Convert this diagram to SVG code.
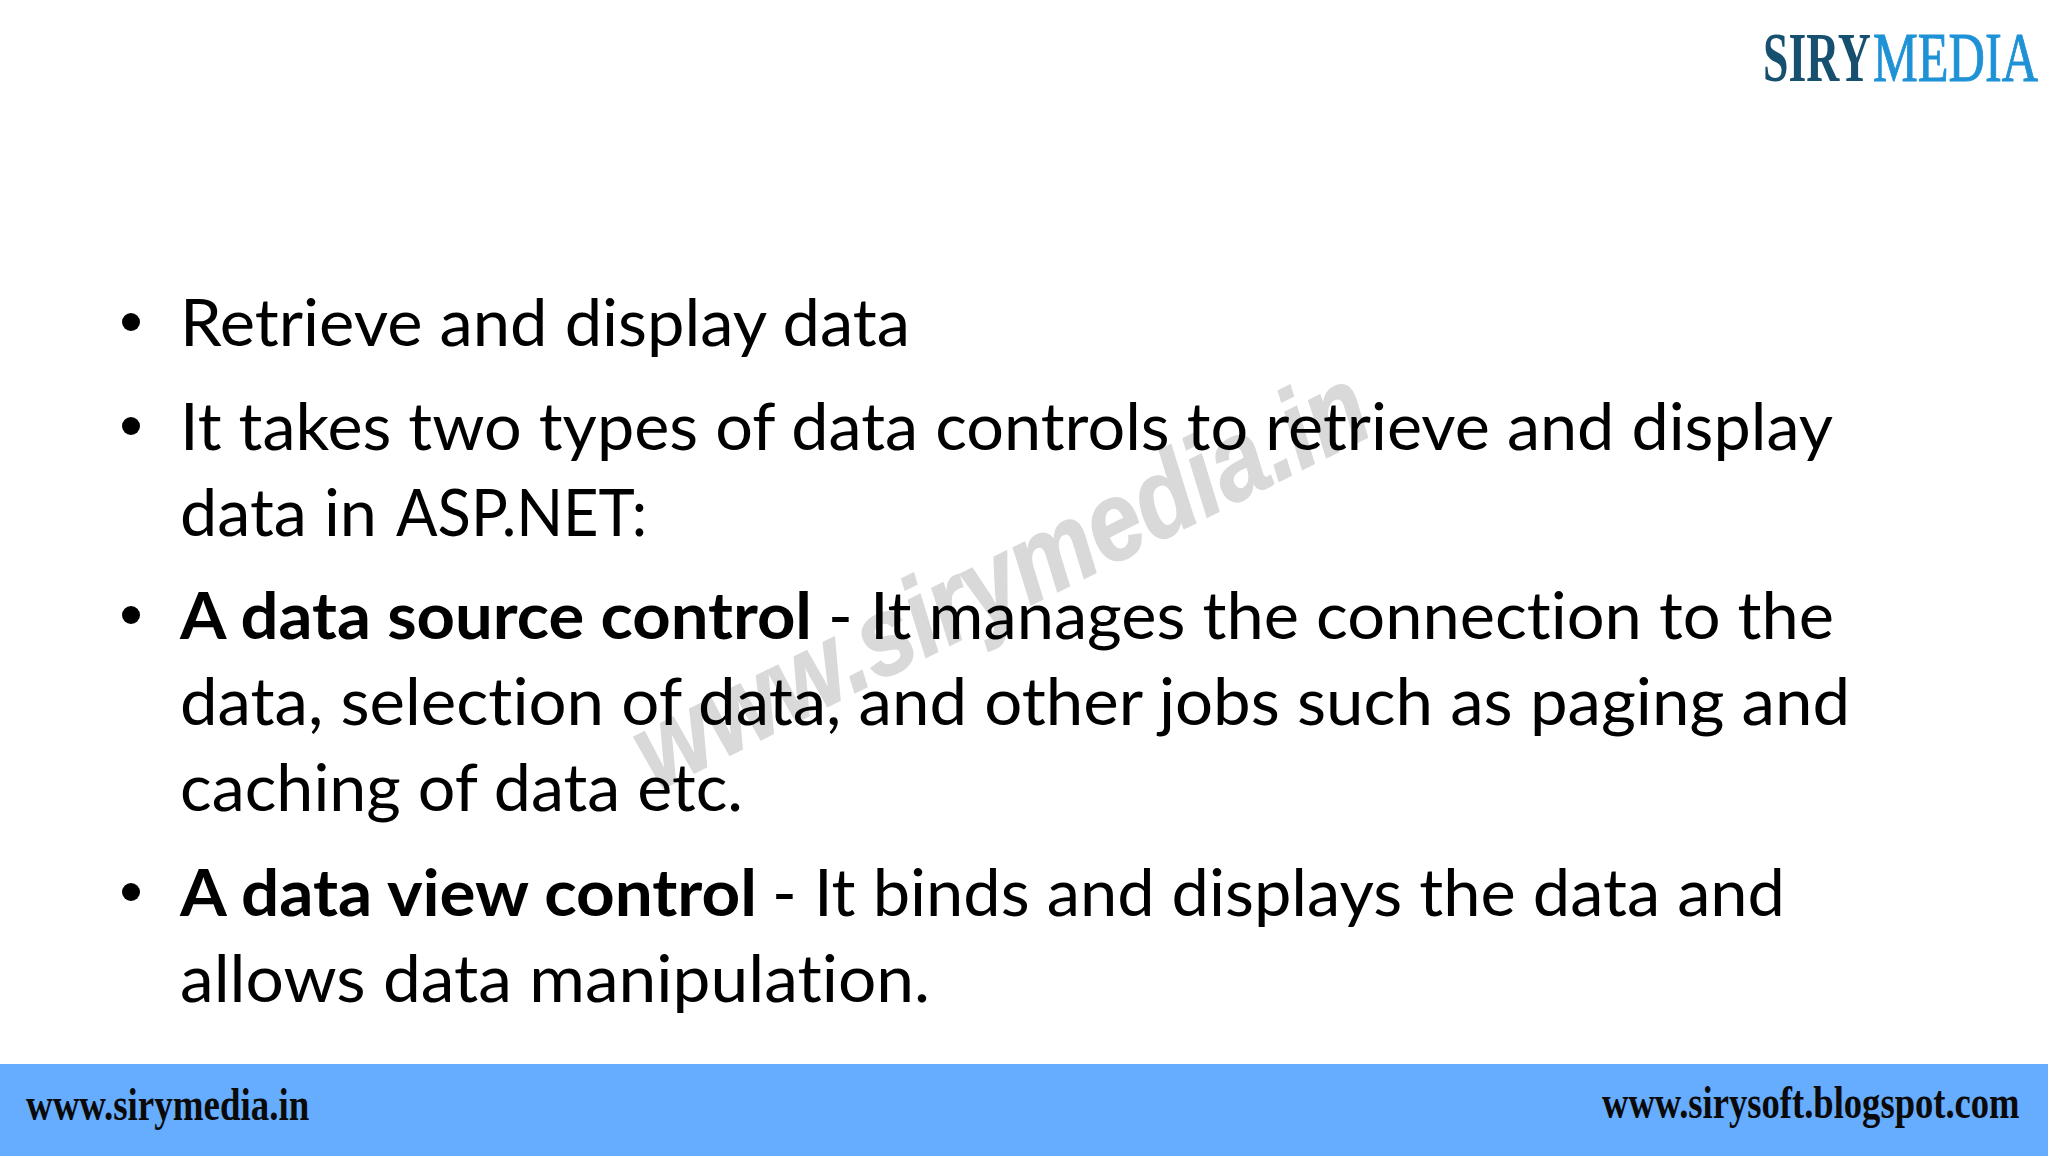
<svg xmlns="http://www.w3.org/2000/svg" width="2048" height="1156" viewBox="0 0 2048 1156">
<style>
.b{font-family:"Lato","Carlito","Liberation Sans",sans-serif;font-size:65px;fill:#000;font-variant-ligatures:none}
.s{font-weight:700}
.f{font-family:"Liberation Serif",serif;font-size:47px;font-weight:700;fill:#0a0a0a}
.l{font-family:"Liberation Serif",serif;font-size:70px}
.d{fill:#000}
</style>
<rect width="2048" height="1156" fill="#fff"/>
<g id="watermark"><text transform="translate(656 792) rotate(-26.5)" textLength="806" lengthAdjust="spacingAndGlyphs" font-family="Liberation Sans,sans-serif" font-size="112" font-weight="700" font-style="italic" fill="#d9d9d9" stroke="#d9d9d9" stroke-width="1.5">www.sirymedia.in</text></g>
<g id="logo">
<text class="l" transform="translate(1763 81) scale(.7 1)" fill="#17506f" font-weight="700" textLength="154" lengthAdjust="spacingAndGlyphs">SIRY</text>
<text class="l" transform="translate(1873 81) scale(.7 1)" fill="#1f92d6" stroke="#1f92d6" stroke-width="1" textLength="236" lengthAdjust="spacingAndGlyphs">MEDIA</text>
</g>
<g id="bullets">
<circle class="d" cx="131" cy="322" r="9"/>
<circle class="d" cx="131" cy="426" r="9"/>
<circle class="d" cx="131" cy="615" r="9"/>
<circle class="d" cx="131" cy="892" r="9"/>
<text class="b" x="180" y="346" textLength="730" lengthAdjust="spacingAndGlyphs">Retrieve and display data</text>
<text class="b" x="180" y="450" textLength="1653" lengthAdjust="spacingAndGlyphs">It takes two types of data controls to retrieve and display</text>
<text class="b" x="180" y="536" textLength="197" lengthAdjust="spacingAndGlyphs">data in</text>
<text class="b" x="396" y="536" textLength="251" lengthAdjust="spacingAndGlyphs">ASP.NET:</text>
<text class="b s" x="180" y="639" textLength="632" lengthAdjust="spacingAndGlyphs">A data source control</text>
<text class="b" x="828" y="639" textLength="1006" lengthAdjust="spacingAndGlyphs">- It manages the connection to the</text>
<text class="b" x="180" y="725" textLength="1670" lengthAdjust="spacingAndGlyphs">data, selection of data, and other jobs such as paging and</text>
<text class="b" x="180" y="811" textLength="563" lengthAdjust="spacingAndGlyphs">caching of data etc.</text>
<text class="b s" x="180" y="916" textLength="577" lengthAdjust="spacingAndGlyphs">A data view control</text>
<text class="b" x="772" y="916" textLength="1013" lengthAdjust="spacingAndGlyphs">- It binds and displays the data and</text>
<text class="b" x="180" y="1002" textLength="750" lengthAdjust="spacingAndGlyphs">allows data manipulation.</text>
</g>
<g id="footer">
<rect y="1064" width="2048" height="92" fill="#66adff"/>
<text class="f" transform="translate(26 1120) scale(.8 1)" textLength="354" lengthAdjust="spacingAndGlyphs">www.sirymedia.in</text>
<text class="f" transform="translate(1602 1118) scale(.8 1)" textLength="522" lengthAdjust="spacingAndGlyphs">www.sirysoft.blogspot.com</text>
</g>
</svg>
